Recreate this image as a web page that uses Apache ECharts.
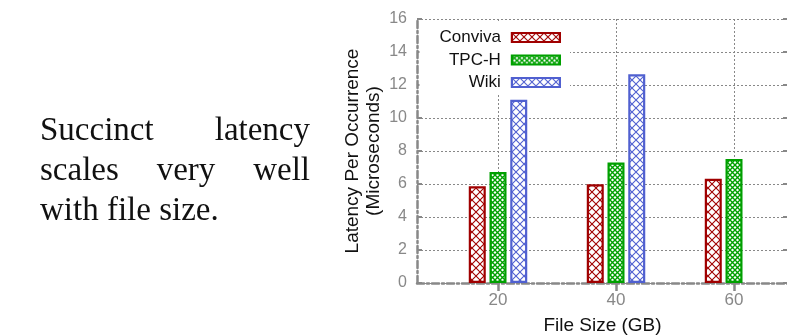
<!DOCTYPE html>
<html>
<head>
<meta charset="utf-8">
<script src="https://cdn.jsdelivr.net/npm/echarts@6/dist/echarts.min.js"></script>
<style>
  html, body { margin: 0; padding: 0; background: #fff; }
  #wrap { position: relative; width: 787px; height: 336px; overflow: hidden; }
  #chart { position: absolute; left: 0; top: 0; width: 787px; height: 336px; }
  #note { position: absolute; left: 40px; top: 109px; width: 270px;
          font-family: "Liberation Serif", "Times New Roman", serif; font-size: 33px;
          line-height: 40px; color: #111; }
  #note .j { text-align: justify; text-align-last: justify; white-space: nowrap; }
</style>
</head>
<body>
<div id="wrap">
  <div id="chart"></div>
  <div id="note">
    <div class="j">Succinct latency</div>
    <div class="j">scales very well</div>
    <div>with file size.</div>
  </div>
</div>
<script>
const fileSizes = [20, 40, 60];
const xTickLabels = [20, 40, 60];
const conviva = [5.86, 5.98, 6.32];
const tpch = [6.72, 7.3, 7.52];
const wiki = [11.1, 12.65, null];
const seriesNames = ['Conviva', 'TPC-H', 'Wiki'];
const seriesColors = ['#A00000', '#00A000', '#5060D0'];

function hatch(color, size, lw) {
  const c = document.createElement('canvas');
  c.width = size; c.height = size;
  const g = c.getContext('2d');
  g.fillStyle = '#fff';
  g.fillRect(0, 0, size, size);
  g.strokeStyle = color;
  g.lineWidth = lw;
  g.beginPath();
  g.moveTo(-1, -1); g.lineTo(size + 1, size + 1);
  g.moveTo(size + 1, -1); g.lineTo(-1, size + 1);
  g.stroke();
  return { image: c, repeat: 'repeat' };
}
const patterns = [
  hatch(seriesColors[0], 8, 1.1),
  hatch(seriesColors[1], 5, 1.4),
  hatch(seriesColors[2], 8, 1.1)
];
const values = [conviva, tpch, wiki];

const chart = echarts.init(document.getElementById('chart'), null, { renderer: 'canvas' });
const gray = '#888';
const frameLine = { color: gray, width: 2.5, type: [7, 3, 2, 3] };
const grid = { left: 417, top: 19, width: 371, height: 264, containLabel: false, outerBoundsMode: 'none' };

const series = seriesNames.map((name, i) => ({
  name: name,
  type: 'bar',
  xAxisIndex: 0,
  yAxisIndex: 0,
  barWidth: 17,
  barGap: '22%',
  data: fileSizes.map((x, k) => values[i][k] == null ? null : [x, values[i][k]]),
  itemStyle: { color: patterns[i], borderColor: seriesColors[i], borderWidth: 2.2 },
  emphasis: { disabled: true },
  z: 3
}));

chart.setOption({
  animation: false,
  backgroundColor: 'transparent',
  grid: grid,
  legend: {
    orient: 'vertical',
    align: 'right',
    right: 217,
    top: 22,
    padding: [7, 9, 4, 20],
    backgroundColor: '#fff',
    itemWidth: 48,
    itemHeight: 9,
    itemGap: 5.5,
    icon: 'rect',
    data: seriesNames,
    itemStyle: { borderWidth: 2.2 },
    textStyle: { fontFamily: 'Liberation Sans', fontSize: 17, color: '#111', lineHeight: 12, padding: [0, 6, 0, 0] },
    z: 10
  },
  xAxis: [{
    type: 'value',
    position: 'bottom',
    min: 6.27,
    max: 69.15,
    axisLine: { show: true, lineStyle: frameLine },
    axisTick: { show: true, inside: true, length: 7, customValues: xTickLabels, lineStyle: { color: gray, width: 2.5 } },
    axisLabel: { customValues: xTickLabels, color: gray, fontFamily: 'Liberation Sans', fontSize: 17, margin: 9 },
    splitLine: { show: true, lineStyle: { color: gray, width: 1, type: [2, 2] } },
    name: 'File Size (GB)',
    nameLocation: 'middle',
    nameGap: 33,
    nameTextStyle: { fontFamily: 'Liberation Sans', fontSize: 19, color: '#111' }
  }, {
    type: 'value',
    position: 'top',
    min: 6.27,
    max: 69.15,
    axisLine: { show: false },
    axisTick: { show: true, inside: true, length: 8, customValues: xTickLabels, lineStyle: { color: gray, width: 2.5 } },
    axisLabel: { show: false },
    splitLine: { show: false }
  }],
  yAxis: [{
    type: 'value',
    position: 'left',
    min: 0,
    max: 16,
    interval: 2,
    axisLine: { show: true, lineStyle: frameLine },
    axisTick: { show: true, inside: true, length: 5, lineStyle: { color: gray, width: 2 } },
    axisLabel: { color: gray, fontFamily: 'Liberation Sans', fontSize: 16, margin: 10 },
    splitLine: { show: true, lineStyle: { color: gray, width: 1, type: [2, 2] } },
    name: 'Latency Per Occurrence\n(Microseconds)',
    nameLocation: 'middle',
    nameRotate: 90,
    nameGap: 33,
    nameTextStyle: { fontFamily: 'Liberation Sans', fontSize: 19, lineHeight: 21, color: '#111' }
  }, {
    type: 'value',
    position: 'right',
    min: 0,
    max: 16,
    interval: 2,
    axisLine: { show: false },
    axisTick: { show: true, inside: true, length: 5, lineStyle: { color: gray, width: 2 } },
    axisLabel: { show: false },
    splitLine: { show: false }
  }],
  series: series
});
</script>
</body>
</html>
